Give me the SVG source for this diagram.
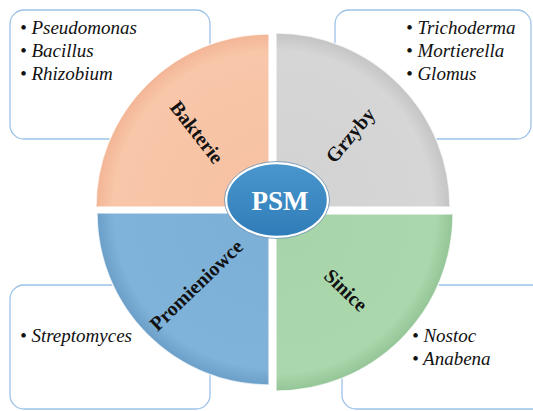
<svg xmlns="http://www.w3.org/2000/svg" width="533" height="411" viewBox="0 0 533 411">
<defs>
<style>
.box{fill:#fff;stroke:#9DC3E6;stroke-width:1.3}
.item{font-family:"Liberation Serif","DejaVu Serif",serif;font-style:italic;font-size:19px;fill:#111}
.lbl{font-family:"Liberation Serif","DejaVu Serif",serif;font-weight:bold;font-size:20px;fill:#111;text-anchor:middle}
.q{stroke:#ffffff;stroke-opacity:0.7;stroke-width:1.5}
</style>
<radialGradient id="gB" cx="269" cy="207" r="173" gradientUnits="userSpaceOnUse"><stop offset="0" stop-color="#F7C1A2"/><stop offset="0.9" stop-color="#F8C6A9"/><stop offset="1" stop-color="#F2B595"/></radialGradient>
<radialGradient id="gG" cx="276" cy="207" r="174" gradientUnits="userSpaceOnUse"><stop offset="0" stop-color="#D2D2D2"/><stop offset="0.9" stop-color="#D6D6D6"/><stop offset="1" stop-color="#C4C4C4"/></radialGradient>
<radialGradient id="gP" cx="269" cy="213" r="172" gradientUnits="userSpaceOnUse"><stop offset="0" stop-color="#7BAFD6"/><stop offset="0.9" stop-color="#80B3D9"/><stop offset="1" stop-color="#6C9FC8"/></radialGradient>
<radialGradient id="gS" cx="276" cy="214" r="177" gradientUnits="userSpaceOnUse"><stop offset="0" stop-color="#A6D4A8"/><stop offset="0.9" stop-color="#ABD7AC"/><stop offset="1" stop-color="#94C597"/></radialGradient>
<linearGradient id="gE" x1="0" y1="0" x2="0" y2="1"><stop offset="0" stop-color="#4A97CE"/><stop offset="1" stop-color="#2F7CB8"/></linearGradient>
</defs>
<g id="box-bakterie"><rect class="box" x="10" y="10" width="200" height="129" rx="14"/>
<text class="item" x="20" y="34">• Pseudomonas</text><text class="item" x="20" y="57">• Bacillus</text><text class="item" x="20" y="80">• Rhizobium</text></g>
<g id="box-grzyby"><rect class="box" x="335" y="10" width="196" height="129" rx="14"/>
<text class="item" x="406" y="34">• Trichoderma</text><text class="item" x="406" y="57">• Mortierella</text><text class="item" x="406" y="80">• Glomus</text></g>
<g id="box-promieniowce"><rect class="box" x="10" y="285" width="200" height="124" rx="14"/>
<text class="item" x="20" y="342">• Streptomyces</text></g>
<g id="box-sinice"><rect class="box" x="342" y="285" width="205" height="124" rx="14"/>
<text class="item" x="412" y="342">• Nostoc</text><text class="item" x="412" y="365">• Anabena</text></g>
<g id="q-bakterie"><path class="q" fill="url(#gB)" d="M269,207 L96,207 A173,173 0 0 1 269,34 Z"/>
<text class="lbl" transform="translate(197,132) rotate(52)" y="7">Bakterie</text></g>
<g id="q-grzyby"><path class="q" fill="url(#gG)" d="M276,207 L276,33 A174,174 0 0 1 450,207 Z"/>
<text class="lbl" transform="translate(350,135) rotate(-50)" y="7">Grzyby</text></g>
<g id="q-promieniowce"><path class="q" fill="url(#gP)" d="M269,213 L269,385 A172,172 0 0 1 97,213 Z"/>
<text class="lbl" transform="translate(196,285) rotate(-44)" y="7">Promieniowce</text></g>
<g id="q-sinice"><path class="q" fill="url(#gS)" d="M276,214 L453,214 A177,177 0 0 1 276,391 Z"/>
<text class="lbl" transform="translate(346,290) rotate(44)" y="7">Sinice</text></g>
<g id="psm"><ellipse cx="277" cy="200" rx="51" ry="37" fill="url(#gE)" stroke="#ffffff" stroke-width="2.5"/>
<ellipse cx="277" cy="200" rx="52.5" ry="38.5" fill="none" stroke="#6A8FB0" stroke-width="0.8"/>
<text x="280" y="210" font-family="'Liberation Serif','DejaVu Serif',serif" font-weight="bold" font-size="27" fill="#fff" text-anchor="middle">PSM</text></g>
<g id="connectors"/>
</svg>
